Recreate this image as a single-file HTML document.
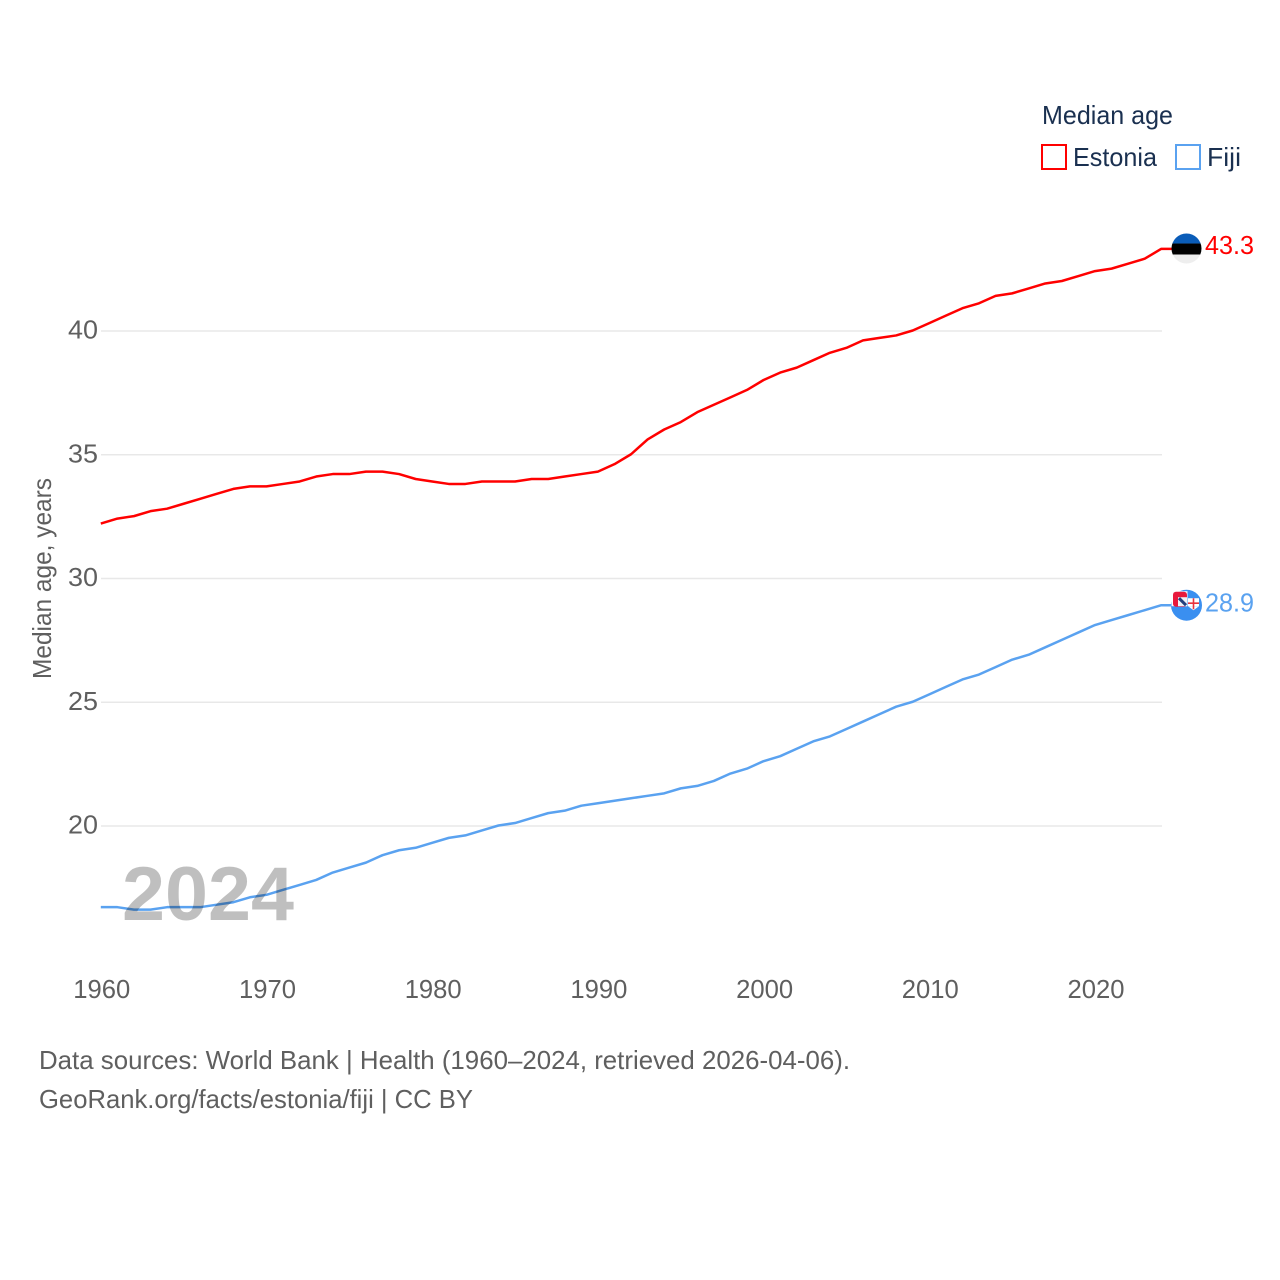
<!DOCTYPE html>
<html lang="en">
<head>
<meta charset="utf-8">
<title>Median age: Estonia and Fiji</title>
<style>
html,body{margin:0;padding:0;background:#fff;width:1280px;height:1280px;overflow:hidden}
svg{display:block}
text{font-family:"Liberation Sans",sans-serif}
</style>
</head>
<body>
<svg id="chart" xmlns="http://www.w3.org/2000/svg" width="1280" height="1280" viewBox="0 0 1280 1280">
  <rect width="1280" height="1280" fill="#fff"/>
  <g id="grid"></g>
  <g id="yticks"></g>
  <g id="xticks"></g>
  <text transform="translate(51,679) rotate(-90)" font-size="26" fill="#5f5f5f" textLength="201" lengthAdjust="spacingAndGlyphs">Median age, years</text>

  <g id="lines"></g>
  <text id="year" x="122" y="920" font-size="76" font-weight="700" fill="#000" fill-opacity="0.25" textLength="172" lengthAdjust="spacingAndGlyphs">2024</text>

  <g>
    <text x="1042" y="124" font-size="26" fill="#1a3050" textLength="131" lengthAdjust="spacingAndGlyphs">Median age</text>
    <rect x="1042" y="145" width="24" height="24" fill="#fff" stroke="#ff0000" stroke-width="2"/>
    <text x="1073" y="166" font-size="26" fill="#1a3050" textLength="84" lengthAdjust="spacingAndGlyphs">Estonia</text>
    <rect x="1176" y="145" width="24" height="24" fill="#fff" stroke="#5aa2f0" stroke-width="2"/>
    <text x="1207" y="166" font-size="26" fill="#1a3050" textLength="34" lengthAdjust="spacingAndGlyphs">Fiji</text>
  </g>

  <defs>
    <clipPath id="clip-estonia"><circle id="clip-estonia-circle" cx="1186.5" cy="248" r="15"/></clipPath>
    <clipPath id="clip-fiji"><circle id="clip-fiji-circle" cx="1186.5" cy="604.5" r="15.5"/></clipPath>
  </defs>
  <g id="flag-estonia"></g>
  <g id="flag-fiji"></g>
  <g id="endlabels"></g>

  <text x="39" y="1069" font-size="26" fill="#5f5f5f" textLength="811" lengthAdjust="spacingAndGlyphs">Data sources: World Bank | Health (1960–2024, retrieved 2026-04-06).</text>
  <text x="39" y="1108" font-size="26" fill="#5f5f5f" textLength="434" lengthAdjust="spacingAndGlyphs">GeoRank.org/facts/estonia/fiji | CC BY</text>
</svg>
<script>
const years = [1960,1961,1962,1963,1964,1965,1966,1967,1968,1969,1970,1971,1972,1973,1974,1975,1976,1977,1978,1979,1980,1981,1982,1983,1984,1985,1986,1987,1988,1989,1990,1991,1992,1993,1994,1995,1996,1997,1998,1999,2000,2001,2002,2003,2004,2005,2006,2007,2008,2009,2010,2011,2012,2013,2014,2015,2016,2017,2018,2019,2020,2021,2022,2023,2024];
const estonia = [32.2,32.4,32.5,32.7,32.8,33.0,33.2,33.4,33.6,33.7,33.7,33.8,33.9,34.1,34.2,34.2,34.3,34.3,34.2,34.0,33.9,33.8,33.8,33.9,33.9,33.9,34.0,34.0,34.1,34.2,34.3,34.6,35.0,35.6,36.0,36.3,36.7,37.0,37.3,37.6,38.0,38.3,38.5,38.8,39.1,39.3,39.6,39.7,39.8,40.0,40.3,40.6,40.9,41.1,41.4,41.5,41.7,41.9,42.0,42.2,42.4,42.5,42.7,42.9,43.3];
const fiji = [16.7,16.7,16.6,16.6,16.7,16.7,16.7,16.8,16.9,17.1,17.2,17.4,17.6,17.8,18.1,18.3,18.5,18.8,19.0,19.1,19.3,19.5,19.6,19.8,20.0,20.1,20.3,20.5,20.6,20.8,20.9,21.0,21.1,21.2,21.3,21.5,21.6,21.8,22.1,22.3,22.6,22.8,23.1,23.4,23.6,23.9,24.2,24.5,24.8,25.0,25.3,25.6,25.9,26.1,26.4,26.7,26.9,27.2,27.5,27.8,28.1,28.3,28.5,28.7,28.9];
const yTickValues = [20,25,30,35,40];
const xTickValues = [1960,1970,1980,1990,2000,2010,2020];

const NS = 'http://www.w3.org/2000/svg';
const xScale = function (year) { return 100.8 + (year - 1960) * 16.57; };
const yScale = function (value) { return 330.5 - (value - 40) * 24.75; };
const FLAG_X = 1172;

function make(tag, parent, attrs, text) {
  const el = document.createElementNS(NS, tag);
  for (const k in attrs) el.setAttribute(k, attrs[k]);
  if (text !== undefined) el.textContent = text;
  parent.appendChild(el);
  return el;
}

const grid = document.getElementById('grid');
const yticks = document.getElementById('yticks');
yTickValues.forEach(function (v) {
  const line = make('line', grid, {x1: 101, x2: 1162, y1: yScale(v) + 0.5, y2: yScale(v) + 0.5, stroke: '#e8e8e8', 'stroke-width': 1.5});
  
  
  const label = make('text', yticks, {x: 98, y: yScale(v) + 8, 'text-anchor': 'end', 'font-size': 26, fill: '#5f5f5f', textLength: 30, lengthAdjust: 'spacingAndGlyphs'}, String(v));
  
  
});

const xticks = document.getElementById('xticks');
xTickValues.forEach(function (v) {
  const label = make('text', xticks, {x: xScale(v) + 1, y: 998, 'text-anchor': 'middle', 'font-size': 26, fill: '#5f5f5f', textLength: 57, lengthAdjust: 'spacingAndGlyphs'}, String(v));
  
  
});

function seriesPath(values) {
  const pts = years.map(function (yr, i) { return xScale(yr).toFixed(2) + ',' + yScale(values[i]).toFixed(2); });
  pts.push(FLAG_X + ',' + yScale(values[values.length - 1]).toFixed(2));
  return 'M' + pts.join('L');
}
const lines = document.getElementById('lines');
const estoniaLine = make('path', lines, {d: seriesPath(estonia), fill: 'none', stroke: '#ff0000', 'stroke-width': 2.5, 'stroke-linejoin': 'round'});


const fijiLine = make('path', lines, {d: seriesPath(fiji), fill: 'none', stroke: '#5aa2f0', 'stroke-width': 2.5, 'stroke-linejoin': 'round'});



/* flag markers follow the last value of each series */
const lastE = estonia[estonia.length - 1];
const lastF = fiji[fiji.length - 1];
const eCy = yScale(lastE) - 0.3;
const fCy = yScale(lastF) + 0;
document.getElementById('clip-estonia-circle').setAttribute('cy', eCy);
document.getElementById('clip-fiji-circle').setAttribute('cy', fCy);

const fe = document.getElementById('flag-estonia');
const feInner = make('g', fe, {'clip-path': 'url(#clip-estonia)'});
make('rect', feInner, {x: 1171, y: eCy - 16, width: 32, height: 11, fill: '#0a5cb8'});
make('rect', feInner, {x: 1171, y: eCy - 5, width: 32, height: 11, fill: '#000'});
make('rect', feInner, {x: 1171, y: eCy + 6, width: 32, height: 11, fill: '#eeeeee'});

const ff = document.getElementById('flag-fiji');
const ffInner = make('g', ff, {'clip-path': 'url(#clip-fiji)'});
make('rect', ffInner, {x: 1170, y: fCy - 17, width: 34, height: 34, fill: '#3a8ff0'});
make('rect', ff, {x: 1171.5, y: fCy - 14, width: 16, height: 15, fill: '#fff'});
make('rect', ff, {x: 1173, y: fCy - 13.5, width: 14, height: 15, rx: 3, fill: '#e8193c'});
make('rect', ff, {x: 1178, y: fCy - 8, width: 9, height: 9, fill: '#f2f2f6'});
make('path', ff, {d: 'M1179 ' + (fCy - 7) + 'L1186 ' + fCy, stroke: '#24407e', 'stroke-width': 3, fill: 'none'});
make('rect', ff, {x: 1188, y: fCy - 7, width: 11, height: 8, fill: '#fff'});
make('path', ff, {d: 'M1188 ' + (fCy + 1) + 'L1199 ' + (fCy + 1) + 'L1193.5 ' + (fCy + 5) + 'Z', fill: '#fff'});
make('path', ff, {d: 'M1193.5 ' + (fCy - 7) + 'V' + (fCy + 4) + 'M1188 ' + (fCy - 2) + 'H1199', stroke: '#e8323c', 'stroke-width': 1.6, fill: 'none'});

const endlabels = document.getElementById('endlabels');
const eLabel = make('text', endlabels, {x: 1205, y: yScale(lastE) + 5.3, 'font-size': 26, fill: '#ff0000', textLength: 49, lengthAdjust: 'spacingAndGlyphs'}, lastE.toFixed(1));


const fLabel = make('text', endlabels, {x: 1205, y: yScale(lastF) + 6.5, 'font-size': 26, fill: '#5aa2f0', textLength: 49, lengthAdjust: 'spacingAndGlyphs'}, lastF.toFixed(1));


</script>
</body>
</html>
